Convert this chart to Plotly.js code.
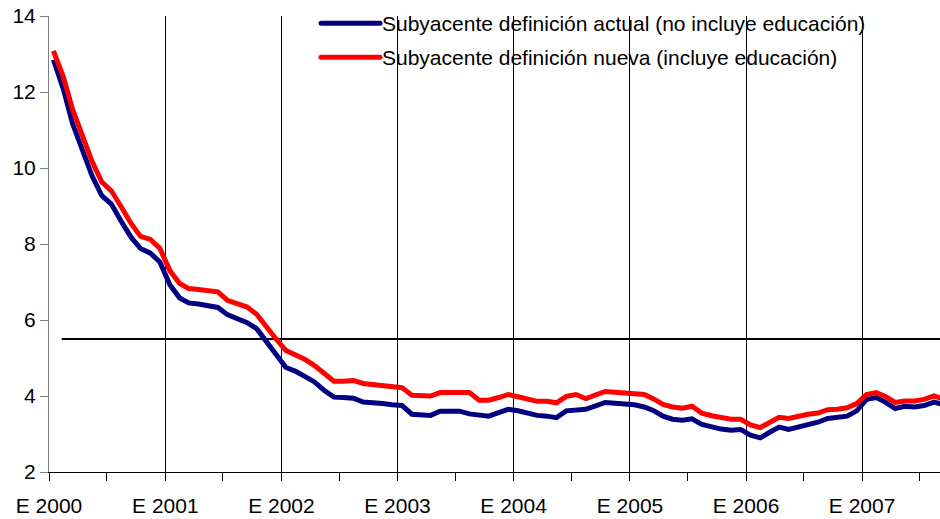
<!DOCTYPE html>
<html>
<head>
<meta charset="utf-8">
<script src="https://cdn.plot.ly/plotly-3.0.1.min.js"></script>
<style>
html,body{margin:0;padding:0;background:#fff;}
#chart{width:940px;height:519px;}
</style>
</head>
<body>
<div id="chart"></div>
<script>
// Monthly series, Jan 2000 .. Sep 2007 (93 months)
const startYear = 2000;
const monthCount = 93;

const actual = [
  12.85, 12.08, 11.17, 10.47, 9.80, 9.27, 9.05, 8.60, 8.18, 7.88, 7.76, 7.52,
  6.93, 6.58, 6.45, 6.42, 6.38, 6.33, 6.14, 6.03, 5.93, 5.77, 5.42, 5.07,
  4.75, 4.65, 4.52, 4.37, 4.15, 3.97, 3.96, 3.94, 3.84, 3.83, 3.80, 3.77,
  3.75, 3.52, 3.50, 3.49, 3.60, 3.60, 3.60, 3.53, 3.50, 3.47, 3.56, 3.65,
  3.61, 3.55, 3.49, 3.47, 3.43, 3.61, 3.64, 3.65, 3.74, 3.83, 3.81, 3.79,
  3.77, 3.71, 3.62, 3.47, 3.39, 3.36, 3.40, 3.25, 3.18, 3.13, 3.10, 3.12,
  2.97, 2.90, 3.04, 3.18, 3.12, 3.18, 3.26, 3.31, 3.41, 3.45, 3.47, 3.61,
  3.91, 3.96, 3.84, 3.67, 3.73, 3.71, 3.75, 3.84, 3.77
];

const nueva = [
  13.08, 12.40, 11.55, 10.85, 10.18, 9.63, 9.40, 8.98, 8.54, 8.20, 8.12, 7.88,
  7.30, 6.96, 6.83, 6.80, 6.77, 6.74, 6.52, 6.43, 6.34, 6.15, 5.80, 5.50,
  5.20, 5.09, 4.97, 4.80, 4.60, 4.39, 4.39, 4.41, 4.33, 4.31, 4.28, 4.25,
  4.22, 4.02, 4.01, 4.00, 4.09, 4.09, 4.09, 4.09, 3.89, 3.89, 3.96, 4.04,
  3.98, 3.91, 3.86, 3.86, 3.82, 3.99, 4.04, 3.93, 4.02, 4.12, 4.10, 4.08,
  4.08, 4.04, 3.93, 3.78, 3.71, 3.68, 3.73, 3.55, 3.48, 3.42, 3.39, 3.39,
  3.24, 3.17, 3.30, 3.44, 3.41, 3.47, 3.52, 3.55, 3.64, 3.65, 3.69, 3.80,
  4.04, 4.09, 3.99, 3.83, 3.87, 3.87, 3.91, 4.00, 3.92
];

const targetDates = ["2000-02-10", "2007-12-31"];
const targetLevel = [5.5, 5.5];

const yearTicks = ["2000-01-01","2001-01-01","2002-01-01","2003-01-01","2004-01-01","2005-01-01","2006-01-01","2007-01-01"];
const yearLabels = ["E 2000","E 2001","E 2002","E 2003","E 2004","E 2005","E 2006","E 2007"];

const nameActual = "Subyacente definición actual (no incluye educación)";
const nameNueva = "Subyacente definición nueva (incluye educación)";

// mid-month dates for each observation
const months = [];
for (let i = 0; i < monthCount; i++) {
  const y = startYear + Math.floor(i / 12);
  const m = (i % 12) + 1;
  months.push(y + "-" + String(m).padStart(2, "0") + "-15");
}

const FONT = "Liberation Sans, Arial, sans-serif";

const traces = [
  {
    x: targetDates, y: targetLevel, type: "scatter", mode: "lines",
    line: {color: "#000000", width: 1.8}, showlegend: false, hoverinfo: "skip"
  },
  {
    x: months, y: actual, type: "scatter", mode: "lines", name: nameActual,
    line: {color: "#000080", width: 5}, legend: "legend"
  },
  {
    x: months, y: nueva, type: "scatter", mode: "lines", name: nameNueva,
    line: {color: "#FF0000", width: 5}, legend: "legend2"
  }
];

const legendCommon = {
  xref: "container", yref: "container", xanchor: "left", yanchor: "top",
  bgcolor: "rgba(0,0,0,0)", borderwidth: 0, itemwidth: 56,
  font: {family: FONT, size: 21, color: "#000"}
};

const layout = {
  width: 940, height: 519,
  margin: {l: 49, r: 0, t: 16, b: 47, autoexpand: false},
  paper_bgcolor: "#ffffff", plot_bgcolor: "#ffffff",
  font: {family: FONT, size: 21, color: "#000"},
  xaxis: {
    type: "date",
    range: ["2000-01-01", "2007-09-03"],
    tickvals: yearTicks, ticktext: yearLabels,
    ticks: "outside", ticklen: 8, tickcolor: "#000", tickwidth: 1,
    ticklabelstandoff: 7,
    showgrid: true, gridcolor: "#000", gridwidth: 1,
    showline: true, linecolor: "#000", linewidth: 1,
    zeroline: false,
    minor: {tick0: "2000-01-01", dtick: "M6", ticks: "outside", ticklen: 8, tickcolor: "#000", showgrid: false},
    tickfont: {family: FONT, size: 21, color: "#000"}
  },
  yaxis: {
    range: [2, 14], dtick: 2, tick0: 2,
    ticks: "outside", ticklen: 8, tickcolor: "#808080", tickwidth: 1,
    showgrid: false, zeroline: false,
    showline: true, linecolor: "#808080", linewidth: 1,
    tickfont: {family: FONT, size: 21, color: "#000"}
  },
  legend: Object.assign({}, legendCommon, {x: 316/940, y: 1 - 3/519}),
  legend2: Object.assign({}, legendCommon, {x: 316/940, y: 1 - 37/519}),
  showlegend: true
};

Plotly.newPlot("chart", traces, layout, {displayModeBar: false, staticPlot: true}).then(function () {
  document.querySelectorAll(".legendlines path").forEach(function (p) {
    p.setAttribute("d", "M5,0h59");
    p.style.strokeLinecap = "round";
  });
});
</script>
</body>
</html>
